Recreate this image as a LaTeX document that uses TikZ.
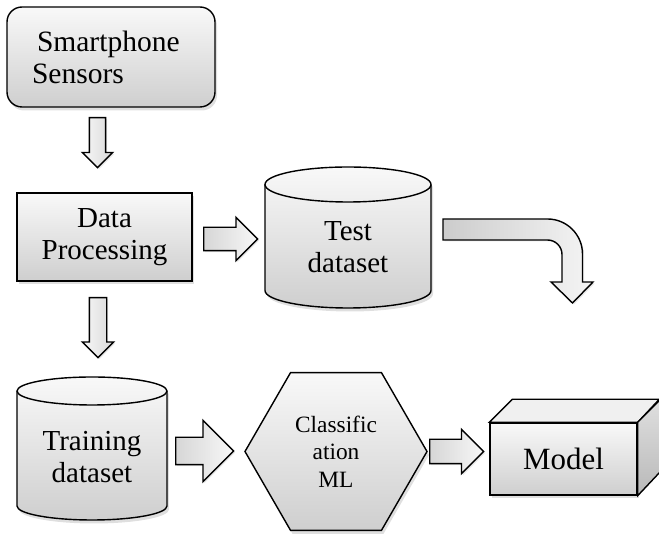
\documentclass[tikz,border=0pt]{standalone}
\usepackage{fontspec}
\setmainfont{Liberation Serif}
\usetikzlibrary{shapes,shapes.arrows,shadows,positioning}

\begin{document}
\begin{tikzpicture}[
    boxtext/.style={font=\fontsize{16.5}{18.3}\selectfont, align=center},
    softshadow/.style={drop shadow={opacity=0.25, shadow xshift=0.04cm, shadow yshift=-0.07cm}},
    shadebox/.style={draw, line width=0.8pt, top color=gray!5, bottom color=gray!38, softshadow},
    dbfill/.style={line width=0.8pt, top color=gray!5, bottom color=gray!38, softshadow},
    blockarr/.style={single arrow, draw, line width=0.8pt, inner sep=0pt, anchor=tail,
        drop shadow={opacity=0.18, shadow xshift=0.03cm, shadow yshift=-0.03cm}},
    downarr/.style={blockarr, rotate=-90, left color=gray!6, right color=gray!30},
    rightarr/.style={blockarr, left color=gray!32, right color=gray!6}
  ]
        \useasboundingbox (0,0) rectangle (13.18,10.68);

        % Boxes
        \node[shadebox, boxtext, font=\fontsize{16.8}{18.3}\selectfont, rounded corners=0.3cm, align=left,
              text width=3.16cm, inner xsep=0.5cm, minimum height=2cm] (sensors) at (2.22,9.54) {\hspace{0.1cm}Smartphone\\Sensors};
        \node[shadebox, boxtext, minimum width=3.5cm, minimum height=1.76cm] (proc) at (2.09,5.94) {Data\\Processing};

        % Test dataset (cylinder)
        \draw[dbfill] (5.30,6.99) -- (5.30,4.87) arc[start angle=180, end angle=360, x radius=1.66, y radius=0.35]
            -- (8.62,6.99) arc[start angle=0, end angle=180, x radius=1.66, y radius=0.35] -- cycle;
        \draw[line width=0.8pt] (5.30,6.99) arc[start angle=180, end angle=360, x radius=1.66, y radius=0.35];
        \node[boxtext] (test) at (6.96,5.74) {Test\\dataset};

        % Training dataset (cylinder)
        \draw[dbfill] (0.34,2.86) -- (0.34,0.56) arc[start angle=180, end angle=360, x radius=1.5, y radius=0.28]
            -- (3.34,2.86) arc[start angle=0, end angle=180, x radius=1.5, y radius=0.28] -- cycle;
        \draw[line width=0.8pt] (0.34,2.86) arc[start angle=180, end angle=360, x radius=1.5, y radius=0.28];
        \node[boxtext] (train) at (1.84,1.54) {Training\\dataset};

        % Classifier
        \node[shadebox, regular polygon, regular polygon sides=6, minimum size=3.64cm, inner sep=0pt,
              font=\fontsize{13.3}{15.6}\selectfont, align=center] (clf) at (6.72,1.65) {Classific\\ation\\ML};

        % Model cube
        \node[shadebox, minimum width=2.94cm, minimum height=1.44cm, font=\fontsize{17.6}{20}\selectfont] (model) at (11.27,1.5) {Model};
        \draw[line width=0.8pt, fill=gray!12] (model.north west) -- ++(0.46,0.46) -- ++(2.94,0) -- (model.north east) -- cycle;
        \draw[line width=0.8pt, top color=gray!25, bottom color=gray!55] (model.north east) -- ++(0.46,0.46) -- ++(0,-1.44) -- (model.south east) -- cycle;

        % Block arrows (placed by their tails)
        \node[downarr, minimum height=1.0cm, inner ysep=0.15cm, single arrow head extend=0.14cm] (arrA) at (1.95,8.34) {};
        \node[rightarr, minimum height=1.08cm, inner ysep=0.22cm, single arrow head extend=0.2cm] (arrB) at (4.06,5.9) {};
        \node[downarr, minimum height=1.2cm, inner ysep=0.16cm, single arrow head extend=0.14cm] (arrC) at (1.96,4.74) {};
        \node[rightarr, minimum height=1.16cm, inner ysep=0.26cm, single arrow head extend=0.34cm] (arrD) at (3.5,1.66) {};
        \node[rightarr, minimum height=1.08cm, inner ysep=0.23cm, single arrow head extend=0.2cm] (arrE) at (8.58,1.65) {};

        % Bent arrow out of the test set
        \draw[line width=0.8pt, left color=gray!40, right color=gray!8,
              drop shadow={opacity=0.18, shadow xshift=0.03cm, shadow yshift=-0.03cm}]
            (8.86,6.3) -- (10.95,6.3) arc[start angle=90, end angle=0, radius=0.7]
            -- (11.65,5.04) -- (11.86,5.04) -- (11.45,4.62) -- (11.02,5.04) -- (11.24,5.04)
            -- (11.24,5.59) arc[start angle=0, end angle=90, radius=0.29] -- (8.86,5.88) -- cycle;
    \end{tikzpicture}
\end{document}
